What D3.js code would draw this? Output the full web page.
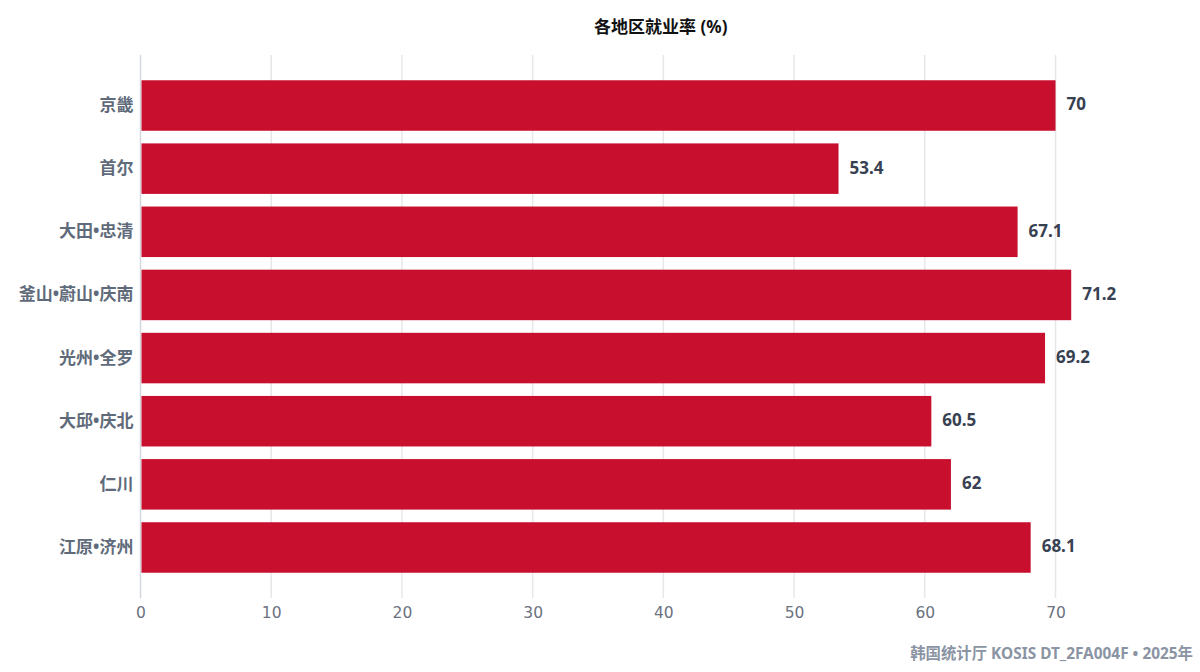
<!DOCTYPE html>
<html>
<head>
<meta charset="utf-8">
<script src="https://cdn.jsdelivr.net/npm/d3@7"></script>
<style>
  body { margin: 0; background: #fff; }
  svg { display: block; }
</style>
</head>
<body>
<div id="chart"></div>
<script>
// Regional employment rate (%), horizontal bars

const regions = ["京畿", "首尔", "大田•忠清", "釜山•蔚山•庆南", "光州•全罗", "大邱•庆北", "仁川", "江原•济州"];
const rates = [70, 53.4, 67.1, 71.2, 69.2, 60.5, 62, 68.1];
const xTicks = [0, 10, 20, 30, 40, 50, 60, 70];

const width = 1200, height = 672;
const margin = { top: 55, right: 19, bottom: 74, left: 140.5 };
const innerW = width - margin.left - margin.right;
const innerH = height - margin.top - margin.bottom;

const cjk = "'Noto Sans', 'Noto Sans CJK SC', sans-serif";

const svg = d3.select("#chart")
  .append("svg")
    .attr("width", width)
    .attr("height", height);

const g = svg.append("g")
    .attr("transform", `translate(${margin.left},${margin.top})`);

const data = regions.map((r, i) => ({ region: r, rate: rates[i] }));

// X scale
const x = d3.scaleLinear()
  .domain([0, 79.6])
  .range([0, innerW]);

// Y scale
const y = d3.scaleBand()
  .domain(regions)
  .range([0, innerH])
  .paddingInner(0.2)
  .paddingOuter(0.4);

// Grid lines
g.append("g")
  .selectAll("line")
  .data(xTicks)
  .enter()
  .append("line")
    .attr("x1", d => x(d))
    .attr("x2", d => x(d))
    .attr("y1", 0)
    .attr("y2", innerH)
    .attr("stroke", d => d === 0 ? "#d4d7de" : "#e5e7eb")
    .attr("stroke-width", 1.5);

// X axis labels
const xAxis = g.append("g")
  .attr("transform", `translate(0,${innerH})`)
  .call(d3.axisBottom(x).tickValues(xTicks).tickSize(0).tickPadding(9));
xAxis.select(".domain").remove();
xAxis.selectAll("text")
  .style("font-family", "'DejaVu Sans', sans-serif")
  .style("font-size", "15.5px")
  .style("fill", "#6b7280");

// Y axis labels
const yAxis = g.append("g")
  .call(d3.axisLeft(y).tickSize(0).tickPadding(7));
yAxis.select(".domain").remove();
yAxis.selectAll("text")
  .style("font-family", cjk)
  .style("font-size", "17px")
  .style("font-weight", "bold")
  .style("fill", "#5f6b7a");

// Bars
g.selectAll("rect.bar")
  .data(data)
  .enter()
  .append("rect")
    .attr("class", "bar")
    .attr("x", x(0) + 1)
    .attr("y", d => y(d.region))
    .attr("width", d => x(d.rate) - x(0) - 1)
    .attr("height", y.bandwidth())
    .attr("fill", "#c8102e");

// Value labels
g.selectAll("text.value")
  .data(data)
  .enter()
  .append("text")
    .attr("class", "value")
    .attr("x", d => x(d.rate) + 11)
    .attr("y", d => y(d.region) + y.bandwidth() / 2 - 1)
    .attr("dy", "0.35em")
    .style("font-family", cjk)
    .style("font-size", "17px")
    .style("font-weight", "bold")
    .style("fill", "#374151")
    .text(d => d.rate);

// Title
svg.append("text")
  .attr("x", margin.left + innerW / 2)
  .attr("y", 27)
  .attr("dy", "0.35em")
  .attr("text-anchor", "middle")
  .style("font-family", cjk)
  .style("font-size", "17px")
  .style("font-weight", "bold")
  .style("fill", "#111")
  .text("各地区就业率 (%)");

// Source
svg.append("text")
  .attr("x", width - 7)
  .attr("y", 654)
  .attr("dy", "0.35em")
  .attr("text-anchor", "end")
  .style("font-family", cjk)
  .style("font-size", "15.4px")
  .style("font-weight", "bold")
  .style("fill", "#8a94a3")
  .text("韩国统计厅 KOSIS DT_2FA004F • 2025年");
</script>
</body>
</html>
